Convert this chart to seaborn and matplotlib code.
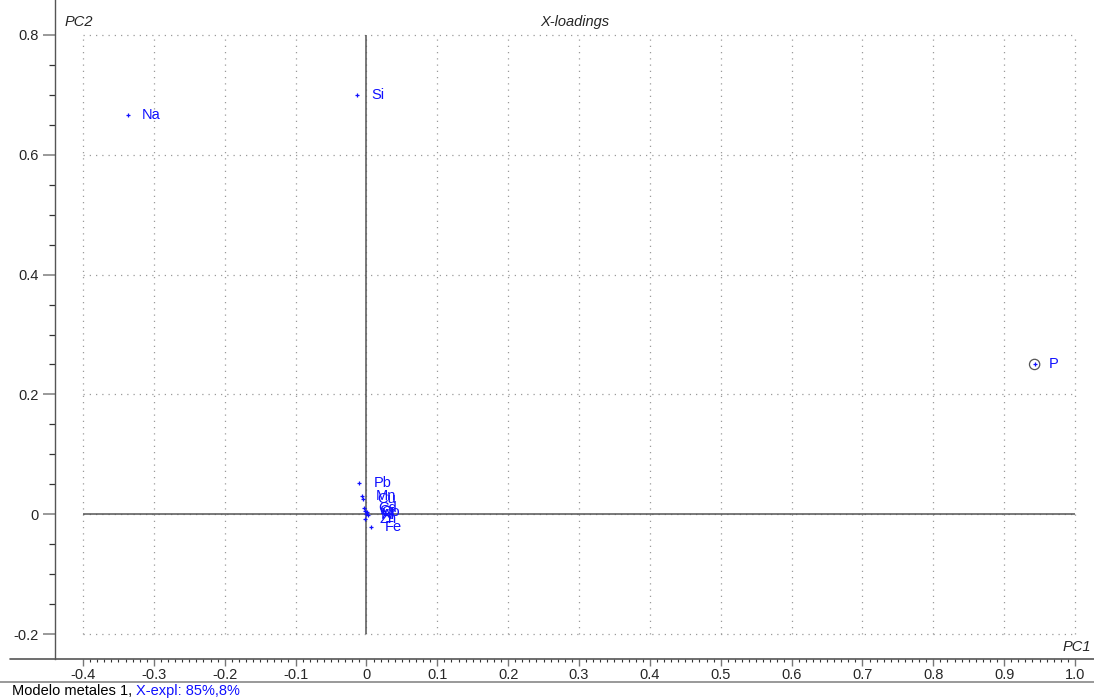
import matplotlib
matplotlib.use("Agg")
import matplotlib.pyplot as plt
from matplotlib.lines import Line2D
import numpy as np
import pandas as pd
import seaborn as sns

# PCA X-loadings, components 1 and 2
elements = ["Na", "Si", "P", "Pb", "Mn", "Cu", "Cd", "Cr", "Co", "Ni", "Al", "Zn", "Fe"]
pc1 = [-0.337, -0.013, 0.943, -0.010, -0.006, -0.005, -0.003, -0.002, 0.001, 0.000, 0.002, -0.002, 0.006]
pc2 = [0.666, 0.700, 0.250, 0.052, 0.030, 0.026, 0.010, 0.006, 0.004, 0.001, -0.002, -0.008, -0.022]
highlighted = ["P"]

x_major = [-0.4, -0.3, -0.2, -0.1, 0.0, 0.1, 0.2, 0.3, 0.4, 0.5, 0.6, 0.7, 0.8, 0.9, 1.0]
x_labels = ["-0.4", "-0.3", "-0.2", "-0.1", "0", "0.1", "0.2", "0.3", "0.4", "0.5",
            "0.6", "0.7", "0.8", "0.9", "1.0"]
y_major = [-0.2, 0.0, 0.2, 0.4, 0.6, 0.8]
y_labels = ["-0.2", "0", "0.2", "0.4", "0.6", "0.8"]

title = "X-loadings"
footer_model = "Modelo metales 1, "
footer_expl = "X-expl: 85%,8%"

df = pd.DataFrame({"element": elements, "PC1": pc1, "PC2": pc2})

sns.set_style("white")
plt.rcParams["font.family"] = ["Liberation Sans", "DejaVu Sans"]
plt.rcParams["axes.unicode_minus"] = False

W, H = 1094, 700
fig = plt.figure(figsize=(W / 100, H / 100), dpi=100)

# axes area in pixels: left spine at x=55, bottom spine at y=659
ax_left, ax_bottom = 55, 659
ax = fig.add_axes([ax_left / W, (H - ax_bottom) / H, 1 - ax_left / W, ax_bottom / H])

# data ranges
xmin_d, xmax_d = x_major[0], x_major[-1]
ymin_d, ymax_d = y_major[0], y_major[-1]
px_per_x = (1075 - 83) / (xmax_d - xmin_d)
px_per_y = (634 - 35) / (ymax_d - ymin_d)
ax.set_xlim(xmin_d - (83 - ax_left) / px_per_x, xmax_d + (W - 1075) / px_per_x)
ax.set_ylim(ymin_d - (ax_bottom - 634) / px_per_y, ymax_d + 35 / px_per_y)

grey = "#9a9a9a"
# dotted grid bounded to the labelled range
ax.vlines(x_major, ymin_d, ymax_d, colors=grey, linestyles=(0, (1, 4)), linewidth=0.9, zorder=0)
ax.hlines(y_major, xmin_d, xmax_d, colors=grey, linestyles=(0, (1, 4)), linewidth=0.9, zorder=0)
# origin cross
ax.hlines(0, xmin_d, xmax_d, colors="#555555", linewidth=1.1, zorder=1)
ax.vlines(0, ymin_d, ymax_d, colors="#555555", linewidth=1.1, zorder=1)

blue = "#1010ff"
sns.scatterplot(data=df, x="PC1", y="PC2", marker="+", s=10, color=blue,
                linewidth=0.9, legend=False, ax=ax, zorder=3)
hl = df[df["element"].isin(highlighted)]
sns.scatterplot(data=hl, x="PC1", y="PC2", marker="o", s=55, facecolor="none",
                edgecolor="#555555", linewidth=0.9, legend=False, ax=ax, zorder=3)

for _, row in df.iterrows():
    ax.annotate(row["element"], (row["PC1"], row["PC2"]), xytext=(14, 0),
                textcoords="offset pixels", va="center", ha="left",
                color=blue, fontsize=10.5, zorder=4)

ax.set_xlabel("")
ax.set_ylabel("")

# axes spines and ticks
for side in ["top", "right", "bottom"]:
    ax.spines[side].set_visible(False)
ax.spines["left"].set_color("#555555")
ax.spines["left"].set_linewidth(1.0)

ax.set_xticks(x_major)
ax.set_xticklabels(x_labels)
ax.set_xticks(np.round(np.arange(xmin_d, xmax_d + 1e-9, 0.01), 2), minor=True)
ax.set_yticks(y_major)
ax.set_yticklabels(y_labels)
ax.set_yticks(np.round(np.arange(ymin_d, ymax_d + 1e-9, 0.05), 2), minor=True)

ax.tick_params(axis="x", which="major", direction="out", length=5, width=1.0,
               color="#777777", labelsize=10.5, pad=1.5, bottom=True)
ax.tick_params(axis="x", which="minor", direction="out", length=1.8, width=0.8,
               color="#333333", bottom=True)
ax.tick_params(axis="y", which="major", direction="out", length=9, width=1.2,
               color="#888888", labelsize=10.5, pad=3, left=True)
ax.tick_params(axis="y", which="minor", direction="out", length=4, width=0.9,
               color="#333333", left=True)
ax.grid(False)

# bottom axis line and separator line above the footer
fig.add_artist(Line2D([10 / W, 1], [1 - ax_bottom / H, 1 - ax_bottom / H],
                      transform=fig.transFigure, color="#555555", linewidth=1.2))
fig.add_artist(Line2D([0, 1], [1 - 682 / H, 1 - 682 / H],
                      transform=fig.transFigure, color="#888888", linewidth=1.2))

# axis names and title
fig.text(65 / W, 1 - 22 / H, "PC2", style="italic", fontsize=10.5, va="center", ha="left")
fig.text(575 / W, 1 - 22 / H, title, style="italic", fontsize=10.5, va="center", ha="center")
fig.text(1091 / W, 1 - 647 / H, "PC1", style="italic", fontsize=10.5, va="center", ha="right")

# footer
t1 = fig.text(12 / W, 1 - 691 / H, footer_model, fontsize=10.5, va="center", ha="left",
              color="black")
fig.canvas.draw()
ext = t1.get_window_extent()
fig.text(ext.x1 / W, 1 - 691 / H, footer_expl, fontsize=10.5, va="center", ha="left",
         color=blue)

fig.savefig("out.png", dpi=100)
